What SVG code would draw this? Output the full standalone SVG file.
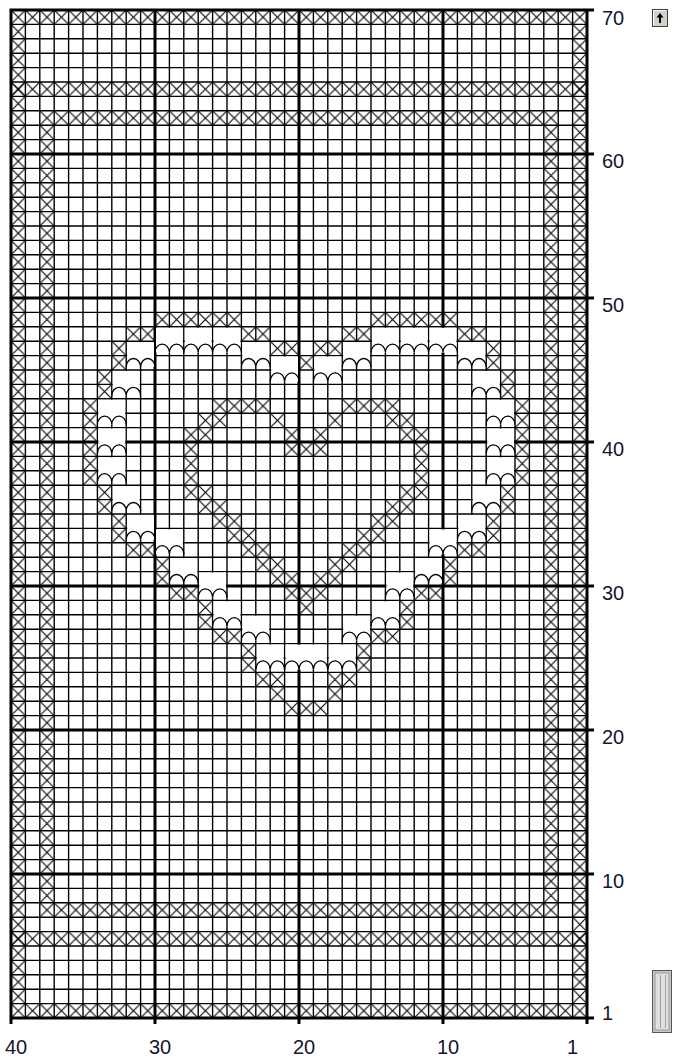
<svg xmlns="http://www.w3.org/2000/svg" xmlns:xlink="http://www.w3.org/1999/xlink" width="673" height="1059" viewBox="0 0 673 1059">
<style>
.thin{fill:none;stroke:#000;stroke-width:1.4}
.thick{fill:none;stroke:#000;stroke-width:3}
.lbl{font-family:"Liberation Sans",Arial,sans-serif;font-size:20px;fill:#151530}
.xc{fill:url(#xp)}
.arc{fill:none;stroke:#000;stroke-width:1.3}
</style>
<defs>
<pattern id="xp" x="11" y="10" width="14.4" height="14.4" patternUnits="userSpaceOnUse">
<path d="M0 0L14.4 14.4M14.4 0L0 14.4" stroke="#000" stroke-width="1.1" fill="none"/>
</pattern>
<g id="L">
<rect x="1" y="1" width="26.8" height="24.8" fill="#fff"/>
<path class="arc" d="M0 25.8A7.2 8.5 0 0 1 14.4 25.8A7.2 8.5 0 0 1 28.8 25.8"/>
</g>
</defs>
<rect width="673" height="1059" fill="#fff"/>
<g id="grid">
<path class="thin" d="M25.4 10V1018M39.8 10V1018M54.2 10V1018M68.6 10V1018M83 10V1018M97.4 10V1018M111.8 10V1018M126.2 10V1018M140.6 10V1018M169.4 10V1018M183.8 10V1018M198.2 10V1018M212.6 10V1018M227 10V1018M241.4 10V1018M255.8 10V1018M270.2 10V1018M284.6 10V1018M313.4 10V1018M327.8 10V1018M342.2 10V1018M356.6 10V1018M371 10V1018M385.4 10V1018M399.8 10V1018M414.2 10V1018M428.6 10V1018M457.4 10V1018M471.8 10V1018M486.2 10V1018M500.6 10V1018M515 10V1018M529.4 10V1018M543.8 10V1018M558.2 10V1018M572.6 10V1018"/>
<path class="thin" d="M11 24.4H587M11 38.8H587M11 53.2H587M11 67.6H587M11 82H587M11 96.4H587M11 110.8H587M11 125.2H587M11 139.6H587M11 168.4H587M11 182.8H587M11 197.2H587M11 211.6H587M11 226H587M11 240.4H587M11 254.8H587M11 269.2H587M11 283.6H587M11 312.4H587M11 326.8H587M11 341.2H587M11 355.6H587M11 370H587M11 384.4H587M11 398.8H587M11 413.2H587M11 427.6H587M11 456.4H587M11 470.8H587M11 485.2H587M11 499.6H587M11 514H587M11 528.4H587M11 542.8H587M11 557.2H587M11 571.6H587M11 600.4H587M11 614.8H587M11 629.2H587M11 643.6H587M11 658H587M11 672.4H587M11 686.8H587M11 701.2H587M11 715.6H587M11 744.4H587M11 758.8H587M11 773.2H587M11 787.6H587M11 802H587M11 816.4H587M11 830.8H587M11 845.2H587M11 859.6H587M11 888.4H587M11 902.8H587M11 917.2H587M11 931.6H587M11 946H587M11 960.4H587M11 974.8H587M11 989.2H587M11 1003.6H587"/>
<path class="thick" d="M11 8.5V1024M155 10V1024M299 10V1024M443 10V1024M587 8.5V1024M9.5 10H594M11 154H594M11 298H594M11 442H594M11 586H594M11 730H594M11 874H594M9.5 1018H594"/>
</g>
<g id="border">
<rect class="xc" x="11" y="10" width="576" height="14.4"/>
<rect class="xc" x="11" y="1003.6" width="576" height="14.4"/>
<rect class="xc" x="11" y="82" width="576" height="14.4"/>
<rect class="xc" x="11" y="931.6" width="576" height="14.4"/>
<rect class="xc" x="11" y="24.4" width="14.4" height="979.2"/>
<rect class="xc" x="572.6" y="24.4" width="14.4" height="979.2"/>
<rect class="xc" x="39.8" y="110.8" width="518.4" height="14.4"/>
<rect class="xc" x="39.8" y="902.8" width="518.4" height="14.4"/>
<rect class="xc" x="39.8" y="125.2" width="14.4" height="777.6"/>
<rect class="xc" x="543.8" y="125.2" width="14.4" height="777.6"/>
</g>
<g id="heart-outer">
<rect class="xc" x="155" y="312.4" width="86.4" height="14.4"/>
<rect class="xc" x="371" y="312.4" width="86.4" height="14.4"/>
<rect class="xc" x="126.2" y="326.8" width="28.8" height="14.4"/>
<rect class="xc" x="241.4" y="326.8" width="28.8" height="14.4"/>
<rect class="xc" x="342.2" y="326.8" width="28.8" height="14.4"/>
<rect class="xc" x="457.4" y="326.8" width="28.8" height="14.4"/>
<rect class="xc" x="111.8" y="341.2" width="14.4" height="28.8"/>
<rect class="xc" x="486.2" y="341.2" width="14.4" height="28.8"/>
<rect class="xc" x="270.2" y="341.2" width="28.8" height="14.4"/>
<rect class="xc" x="313.4" y="341.2" width="28.8" height="14.4"/>
<rect class="xc" x="299" y="355.6" width="14.4" height="14.4"/>
<rect class="xc" x="97.4" y="370" width="14.4" height="28.8"/>
<rect class="xc" x="500.6" y="370" width="14.4" height="28.8"/>
<rect class="xc" x="83" y="398.8" width="14.4" height="86.4"/>
<rect class="xc" x="515" y="398.8" width="14.4" height="86.4"/>
<rect class="xc" x="97.4" y="485.2" width="14.4" height="28.8"/>
<rect class="xc" x="500.6" y="485.2" width="14.4" height="28.8"/>
<rect class="xc" x="111.8" y="514" width="14.4" height="28.8"/>
<rect class="xc" x="486.2" y="514" width="14.4" height="28.8"/>
<rect class="xc" x="126.2" y="542.8" width="28.8" height="14.4"/>
<rect class="xc" x="457.4" y="542.8" width="28.8" height="14.4"/>
<rect class="xc" x="155" y="557.2" width="14.4" height="28.8"/>
<rect class="xc" x="443" y="557.2" width="14.4" height="28.8"/>
<rect class="xc" x="169.4" y="586" width="28.8" height="14.4"/>
<rect class="xc" x="414.2" y="586" width="28.8" height="14.4"/>
<rect class="xc" x="198.2" y="600.4" width="14.4" height="28.8"/>
<rect class="xc" x="399.8" y="600.4" width="14.4" height="28.8"/>
<rect class="xc" x="212.6" y="629.2" width="28.8" height="14.4"/>
<rect class="xc" x="371" y="629.2" width="28.8" height="14.4"/>
<rect class="xc" x="241.4" y="643.6" width="14.4" height="28.8"/>
<rect class="xc" x="356.6" y="643.6" width="14.4" height="28.8"/>
<rect class="xc" x="255.8" y="672.4" width="28.8" height="14.4"/>
<rect class="xc" x="327.8" y="672.4" width="28.8" height="14.4"/>
<rect class="xc" x="270.2" y="686.8" width="14.4" height="14.4"/>
<rect class="xc" x="327.8" y="686.8" width="14.4" height="14.4"/>
<rect class="xc" x="284.6" y="701.2" width="43.2" height="14.4"/>
</g>
<g id="heart-inner">
<rect class="xc" x="212.6" y="398.8" width="57.6" height="14.4"/>
<rect class="xc" x="342.2" y="398.8" width="57.6" height="14.4"/>
<rect class="xc" x="198.2" y="413.2" width="28.8" height="14.4"/>
<rect class="xc" x="270.2" y="413.2" width="14.4" height="14.4"/>
<rect class="xc" x="327.8" y="413.2" width="14.4" height="14.4"/>
<rect class="xc" x="385.4" y="413.2" width="28.8" height="14.4"/>
<rect class="xc" x="183.8" y="427.6" width="28.8" height="14.4"/>
<rect class="xc" x="284.6" y="427.6" width="14.4" height="14.4"/>
<rect class="xc" x="313.4" y="427.6" width="14.4" height="14.4"/>
<rect class="xc" x="399.8" y="427.6" width="28.8" height="14.4"/>
<rect class="xc" x="183.8" y="442" width="14.4" height="43.2"/>
<rect class="xc" x="414.2" y="442" width="14.4" height="43.2"/>
<rect class="xc" x="284.6" y="442" width="43.2" height="14.4"/>
<rect class="xc" x="183.8" y="485.2" width="28.8" height="14.4"/>
<rect class="xc" x="399.8" y="485.2" width="28.8" height="14.4"/>
<rect class="xc" x="198.2" y="499.6" width="28.8" height="14.4"/>
<rect class="xc" x="385.4" y="499.6" width="28.8" height="14.4"/>
<rect class="xc" x="212.6" y="514" width="28.8" height="14.4"/>
<rect class="xc" x="371" y="514" width="28.8" height="14.4"/>
<rect class="xc" x="227" y="528.4" width="28.8" height="14.4"/>
<rect class="xc" x="356.6" y="528.4" width="28.8" height="14.4"/>
<rect class="xc" x="241.4" y="542.8" width="28.8" height="14.4"/>
<rect class="xc" x="342.2" y="542.8" width="28.8" height="14.4"/>
<rect class="xc" x="255.8" y="557.2" width="28.8" height="14.4"/>
<rect class="xc" x="327.8" y="557.2" width="28.8" height="14.4"/>
<rect class="xc" x="270.2" y="571.6" width="28.8" height="14.4"/>
<rect class="xc" x="313.4" y="571.6" width="28.8" height="14.4"/>
<rect class="xc" x="284.6" y="586" width="43.2" height="14.4"/>
<rect class="xc" x="299" y="600.4" width="14.4" height="14.4"/>
</g>
<g id="lacets">
<use xlink:href="#L" x="155" y="326.8"/>
<use xlink:href="#L" x="183.8" y="326.8"/>
<use xlink:href="#L" x="212.6" y="326.8"/>
<use xlink:href="#L" x="371" y="326.8"/>
<use xlink:href="#L" x="399.8" y="326.8"/>
<use xlink:href="#L" x="428.6" y="326.8"/>
<use xlink:href="#L" x="126.2" y="341.2"/>
<use xlink:href="#L" x="457.4" y="341.2"/>
<use xlink:href="#L" x="241.4" y="341.2"/>
<use xlink:href="#L" x="342.2" y="341.2"/>
<use xlink:href="#L" x="270.2" y="355.6"/>
<use xlink:href="#L" x="313.4" y="355.6"/>
<use xlink:href="#L" x="111.8" y="370"/>
<use xlink:href="#L" x="471.8" y="370"/>
<use xlink:href="#L" x="97.4" y="398.8"/>
<use xlink:href="#L" x="486.2" y="398.8"/>
<use xlink:href="#L" x="97.4" y="427.6"/>
<use xlink:href="#L" x="486.2" y="427.6"/>
<use xlink:href="#L" x="97.4" y="456.4"/>
<use xlink:href="#L" x="486.2" y="456.4"/>
<use xlink:href="#L" x="111.8" y="485.2"/>
<use xlink:href="#L" x="471.8" y="485.2"/>
<use xlink:href="#L" x="126.2" y="514"/>
<use xlink:href="#L" x="457.4" y="514"/>
<use xlink:href="#L" x="155" y="528.4"/>
<use xlink:href="#L" x="428.6" y="528.4"/>
<use xlink:href="#L" x="169.4" y="557.2"/>
<use xlink:href="#L" x="414.2" y="557.2"/>
<use xlink:href="#L" x="198.2" y="571.6"/>
<use xlink:href="#L" x="385.4" y="571.6"/>
<use xlink:href="#L" x="212.6" y="600.4"/>
<use xlink:href="#L" x="371" y="600.4"/>
<use xlink:href="#L" x="241.4" y="614.8"/>
<use xlink:href="#L" x="342.2" y="614.8"/>
<use xlink:href="#L" x="255.8" y="643.6"/>
<use xlink:href="#L" x="327.8" y="643.6"/>
<rect x="285.6" y="644.6" width="41.2" height="24.8" fill="#fff"/>
<path class="arc" d="M284.6 669.4A7.2 8.5 0 0 1 299 669.4A7.2 8.5 0 0 1 313.4 669.4A7.2 8.5 0 0 1 327.8 669.4"/>
</g>
<g id="labels">
<text class="lbl" x="602" y="25">70</text>
<text class="lbl" x="602" y="168">60</text>
<text class="lbl" x="602" y="312">50</text>
<text class="lbl" x="602" y="456">40</text>
<text class="lbl" x="602" y="600">30</text>
<text class="lbl" x="602" y="744">20</text>
<text class="lbl" x="602" y="888">10</text>
<text class="lbl" x="602" y="1020">1</text>
<text class="lbl" x="5" y="1054">40</text>
<text class="lbl" x="149" y="1054">30</text>
<text class="lbl" x="293" y="1054">20</text>
<text class="lbl" x="437" y="1054">10</text>
<text class="lbl" x="567" y="1054">1</text>
</g>
<g id="scrollbar">
<rect x="652.5" y="9.5" width="15" height="17" fill="#d4d0c8" stroke="#404040"/>
<path d="M653.5 25V10.5H666" fill="none" stroke="#fff"/>
<path d="M660 13L656.5 17.5H659V23H661V17.5H663.5Z" fill="#000"/>
<rect x="652.5" y="970.5" width="19" height="62" fill="#c8c8c8" stroke="#555"/>
<rect x="655" y="973" width="14" height="57" fill="#e0e0e0" stroke="#999"/>
<path d="M660.5 975V1028M665.5 975V1028" stroke="#a0a0a0" fill="none"/>
</g>
</svg>
